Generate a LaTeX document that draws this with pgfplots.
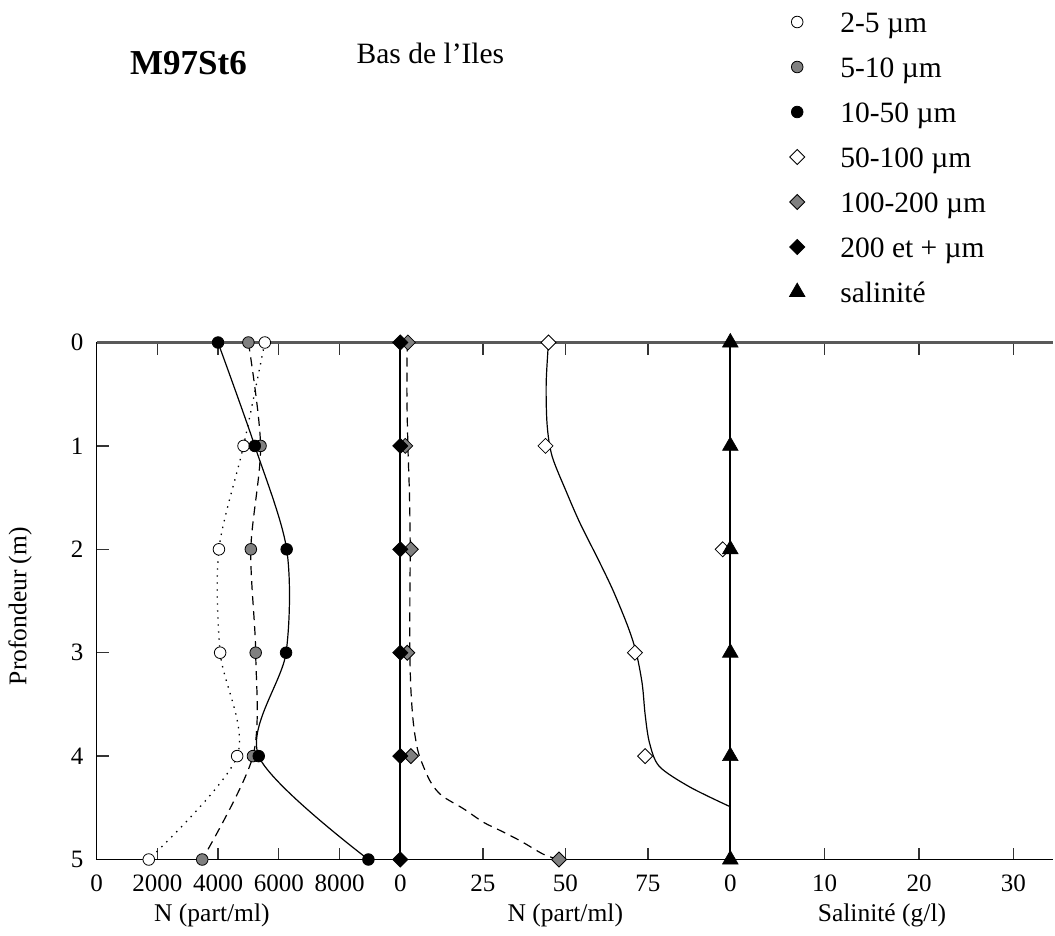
\documentclass[border=0pt]{standalone}
\usepackage{pgfplots}
\usepackage{pgfplotstable}
\pgfplotsset{compat=1.18}
\usepackage{fontspec}
\setmainfont{Liberation Serif}

\pgfplotstableread{
depth a b c
0 5540 5000 4000
1 4840 5400 5210
2 4030 5080 6260
3 4070 5240 6240
4 4630 5150 5340
5 1720 3480 8950
}\panelA

\pgfplotstableread{
depth d e f
0 44.9 2.3 0
1 44.0 1.5 0
2 97.7 3.2 0
3 71.1 2.1 0
4 74.2 3.2 0
5 nan 48.1 0
}\panelB

% traced smoothing curve, 50-100
\pgfplotstableread{
v depth
44.9 0
44.2 0.4
44.5 0.8
46.0 1.1
50.4 1.45
54.5 1.75
60.0 2.1
64.5 2.4
69.0 2.75
71.5 3.0
73.3 3.3
74.2 3.6
75.5 3.87
78.5 4.1
87.8 4.30
100 4.49
}\curveD

% traced smoothing curve, 100-200
\pgfplotstableread{
v depth
2.1 0
2.0 0.5
2.3 1
2.8 1.5
3.0 2
2.9 2.5
2.9 3
3.2 3.35
3.8 3.63
4.6 3.83
5.8 4.0
9.0 4.24
12.5 4.38
19.2 4.51
25.2 4.64
30.3 4.72
36.4 4.82
43.4 4.95
48.1 5
}\curveE

\pgfplotstableread{
depth s
0 0
1 0
2 0
3 0
4 0
5 0
}\salin

\tikzset{
  mkA/.style={mark=*, mark size=5.8pt, mark options={draw=black, fill=white, line width=0.8pt, solid}},
  mkB/.style={mark=*, mark size=5.8pt, mark options={draw=black, fill=black!50, line width=0.8pt, solid}},
  mkC/.style={mark=*, mark size=5.8pt, mark options={draw=black, fill=black, line width=0.8pt, solid}},
  mkD/.style={mark=diamond*, mark size=7.5pt, mark options={draw=black, fill=white, line width=0.8pt, xscale=1.3333, solid}},
  mkE/.style={mark=diamond*, mark size=7.5pt, mark options={draw=black, fill=black!50, line width=0.8pt, xscale=1.3333, solid}},
  mkF/.style={mark=diamond*, mark size=7.5pt, mark options={draw=black, fill=black, line width=0.8pt, xscale=1.3333, solid}},
  mkS/.style={mark=triangle*, mark size=9pt, mark options={draw=black, fill=black, line width=0.6pt, solid}},
}

\pgfplotsset{
  common/.style={
    scale only axis, height=517pt, y dir=reverse, ymin=0, ymax=5,
    clip=false, anchor=south west,
    axis line style={line width=1.3pt},
    every tick/.style={color=black!80, line width=1.4pt},
    tick align=inside, major tick length=12pt, minor tick length=4pt,
    xtick pos=both, xticklabel pos=lower,
    tick label style={font=\fontsize{25}{30}\selectfont, inner sep=0pt},
    /pgf/number format/assume math mode=true,
    /pgf/number format/1000 sep={},
    scaled ticks=false,
    xticklabel shift=15pt,
    label style={font=\fontsize{25.5}{30}\selectfont},
  },
}

\begin{document}
\begin{tikzpicture}
\useasboundingbox (0,0) rectangle (1055pt,935pt);

% Panel 1
\begin{axis}[common, at={(96.5pt,75.5pt)}, width=303.8pt,
  xmin=0, xmax=10000, xtick={0,2000,4000,6000,8000},
  ytick={0,1,2,3,4,5}, ytick pos=left, yticklabel pos=left,
  yticklabel shift=13pt,
  xlabel={N (part/ml)}, ylabel={Profondeur (m)},
  xlabel style={at={([yshift=-62pt]axis description cs:0.38,0)}, anchor=base},
  ylabel style={at={([xshift=-76.5pt]axis description cs:0,0.49)}, anchor=center, rotate=0},
]
\addplot[no marks, smooth, tension=0.5, line width=1.3pt, dash pattern=on 1.4pt off 5.6pt, forget plot] table[x=a, y=depth] {\panelA};
\addplot[no marks, smooth, tension=0.5, line width=1.2pt, dash pattern=on 9pt off 6pt, forget plot] table[x=b, y=depth] {\panelA};
\addplot[no marks, smooth, tension=0.5, line width=1.2pt, forget plot] table[x=c, y=depth] {\panelA};
\addplot[only marks, mkA] table[x=a, y=depth] {\panelA};
\addplot[only marks, mkB] table[x=b, y=depth] {\panelA};
\addplot[only marks, mkC] table[x=c, y=depth] {\panelA};
\draw[black!65, line width=2.4pt] (axis description cs:0,1) -- (axis description cs:1,1);
\end{axis}

% Panel 2
\begin{axis}[common, at={(400.3pt,75.5pt)}, width=330pt,
  xmin=0, xmax=100, xtick={0,25,50,75},
  ytick=\empty,
  xlabel={N (part/ml)},
  xlabel style={at={([yshift=-62pt]axis description cs:0.5,0)}, anchor=base},
]
\addplot[no marks, smooth, tension=0.5, line width=1.2pt, dash pattern=on 9pt off 6pt, forget plot] table[x=v, y=depth] {\curveE};
\addplot[no marks, smooth, tension=0.5, line width=1.2pt, forget plot] table[x=v, y=depth] {\curveD};
\addplot[no marks, line width=1.8pt, forget plot] table[x=f, y=depth] {\panelB};
\addplot[only marks, mkD] table[x=d, y=depth] {\panelB};
\addplot[only marks, mkE] table[x=e, y=depth] {\panelB};
\addplot[only marks, mkF] table[x=f, y=depth] {\panelB};
\draw[black!65, line width=2.4pt] (axis description cs:0,1) -- (axis description cs:1,1);
\end{axis}

% Panel 3
\begin{axis}[common, at={(730.3pt,75.5pt)}, width=322.7pt,
  xmin=0, xmax=34.2, xtick={0,10,20,30},
  ytick=\empty, minor ytick={0.15,0.3,...,4.96}, ytick pos=left,
  separate axis lines, y axis line style={draw=none},
  xlabel={Salinité (g/l)},
  xlabel style={at={([yshift=-62pt]axis description cs:0.47,0)}, anchor=base},
  legend style={at={(axis description cs:0.1819,1.647)}, anchor=north west,
    draw=none, fill=none, inner sep=0pt, outer sep=0pt,
    font=\fontsize{29.5}{35}\selectfont, row sep=17pt,
    nodes={inner sep=0pt, text height=24pt, text depth=4pt}},
  legend cell align=left,
  legend image code/.code={\draw[#1] plot coordinates {(0pt,0pt)}; \path (-8pt,-10pt) (43pt,10pt);},
]
\addplot[line width=1.8pt, mkS, forget plot] table[x=s, y=depth] {\salin};
\addlegendimage{only marks, mkA}
\addlegendentry{2-5 µm}
\addlegendimage{only marks, mkB}
\addlegendentry{5-10 µm}
\addlegendimage{only marks, mkC}
\addlegendentry{10-50 µm}
\addlegendimage{only marks, mkD}
\addlegendentry{50-100 µm}
\addlegendimage{only marks, mkE}
\addlegendentry{100-200 µm}
\addlegendimage{only marks, mkF}
\addlegendentry{200 et + µm}
\addlegendimage{only marks, mkS}
\addlegendentry{salinité}
\draw[black!65, line width=2.4pt] (axis description cs:0,1) -- (axis description cs:1,1);
\end{axis}

\node[anchor=base west, inner sep=0pt, font=\bfseries\fontsize{35}{40}\selectfont] at (130pt,860.6pt) {M97St6};
\node[anchor=base west, inner sep=0pt, font=\fontsize{29.5}{35}\selectfont] at (356.5pt,871.5pt) {Bas de l’Iles};
\end{tikzpicture}
\end{document}
